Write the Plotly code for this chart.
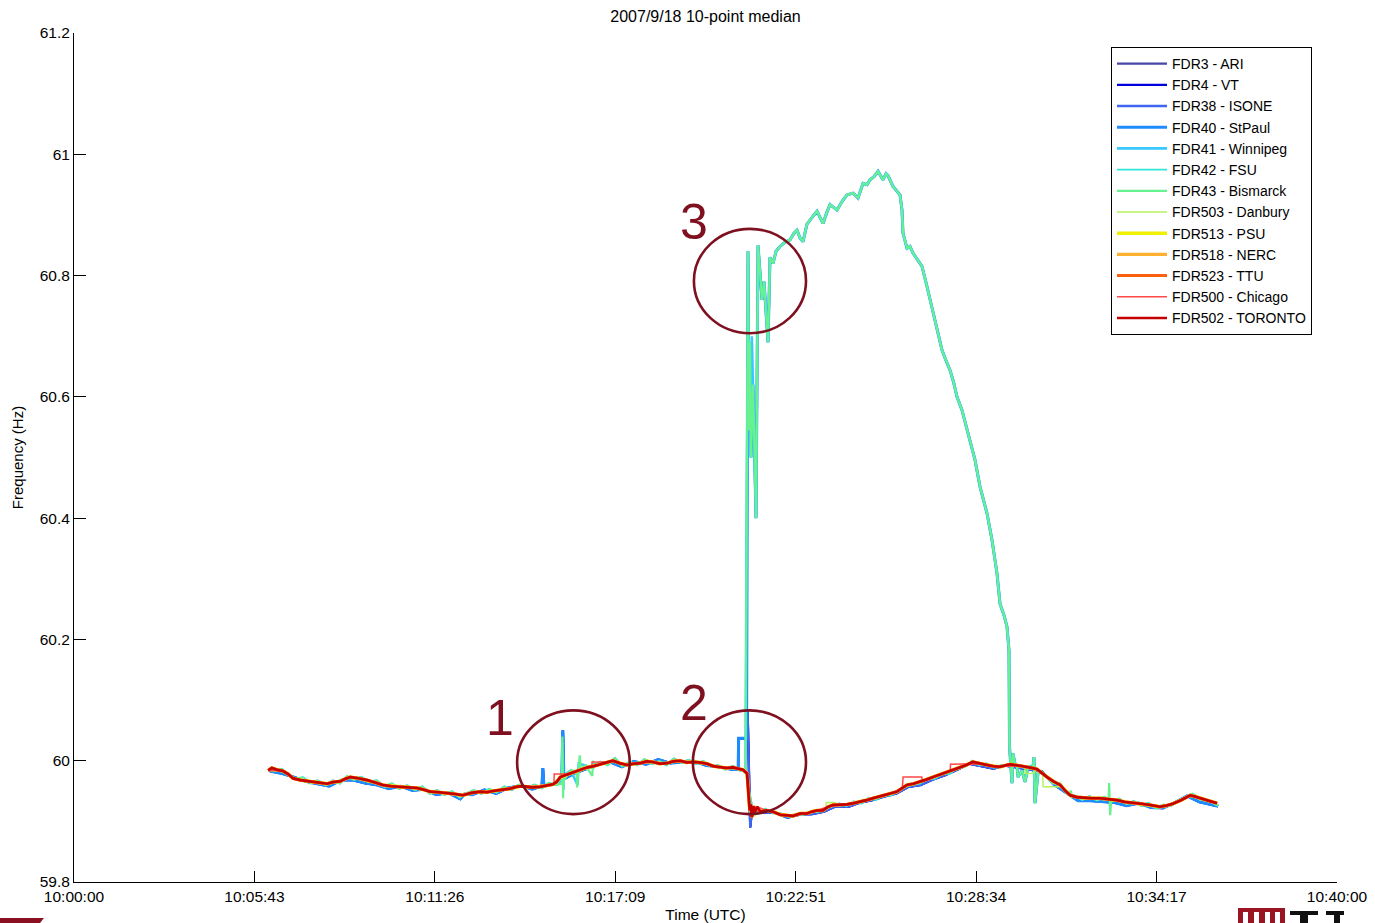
import plotly.graph_objects as go

# ---------------------------------------------------------------------------
# FNET frequency recordings, 2007-09-18, 10-point median filtered.
# Time is seconds after 10:00:00 UTC, frequency in Hz.
# ---------------------------------------------------------------------------

# Eastern interconnection reference trace (TORONTO and the smoother units)
t_east = [369, 376, 386, 397, 407, 416, 430, 448, 465, 481, 493, 506, 515, 525, 540,
          557, 572, 587, 603, 620, 636, 652, 665, 677, 693, 709, 724, 739, 755, 772,
          785, 796, 812, 829, 841, 853, 870, 886, 898, 910, 917, 924, 936, 948, 962,
          975, 987, 1000, 1012, 1024, 1037, 1051, 1063, 1076, 1088, 1100, 1113, 1127,
          1139, 1152, 1164, 1176, 1190, 1203, 1215, 1228, 1240, 1252, 1262, 1271, 1279,
          1282, 1284, 1286, 1288, 1291, 1294, 1298, 1304, 1316, 1328, 1342, 1355, 1366,
          1380, 1393, 1402, 1412, 1423, 1433, 1442, 1456, 1469, 1481, 1494, 1506, 1518,
          1532, 1545, 1555, 1564, 1574, 1583, 1595, 1608, 1620, 1632, 1645, 1659, 1671,
          1684, 1696, 1708, 1722, 1735, 1747, 1760, 1769, 1779, 1795, 1811, 1821, 1830,
          1840, 1849, 1861, 1874, 1883, 1893, 1905, 1917, 1933, 1950, 1966, 1982, 1997,
          2012, 2028, 2045, 2054, 2064, 2076, 2088, 2104, 2121, 2130, 2140, 2156, 2172]
f_east = [59.984, 59.988, 59.985, 59.983, 59.978, 59.971, 59.968, 59.966, 59.964, 59.962,
          59.965, 59.966, 59.970, 59.973, 59.971, 59.968, 59.964, 59.960, 59.958, 59.957,
          59.956, 59.955, 59.952, 59.949, 59.948, 59.947, 59.945, 59.943, 59.947, 59.949,
          59.948, 59.950, 59.952, 59.954, 59.957, 59.958, 59.956, 59.957, 59.959, 59.961,
          59.965, 59.973, 59.977, 59.981, 59.985, 59.989, 59.991, 59.994, 59.997, 60.000,
          59.996, 59.993, 59.995, 59.996, 59.999, 59.998, 59.995, 59.996, 59.999, 60.000,
          59.997, 59.998, 59.997, 59.995, 59.991, 59.989, 59.988, 59.989, 59.987, 59.985,
          59.979, 59.935, 59.918, 59.928, 59.907, 59.925, 59.915, 59.924, 59.916, 59.918,
          59.916, 59.911, 59.910, 59.909, 59.913, 59.913, 59.916, 59.918, 59.918, 59.924,
          59.927, 59.927, 59.928, 59.930, 59.932, 59.935, 59.938, 59.941, 59.944, 59.947,
          59.949, 59.955, 59.960, 59.962, 59.965, 59.969, 59.973, 59.977, 59.981, 59.985,
          59.988, 59.993, 59.998, 59.995, 59.993, 59.991, 59.990, 59.992, 59.994, 59.992,
          59.990, 59.988, 59.986, 59.979, 59.973, 59.966, 59.960, 59.951, 59.943, 59.940,
          59.939, 59.938, 59.938, 59.937, 59.935, 59.932, 59.930, 59.929, 59.927, 59.925,
          59.924, 59.926, 59.929, 59.935, 59.943, 59.941, 59.938, 59.934, 59.930]

# Noisier eastern trace (green / cyan units)
t_band = [370, 382, 395, 408, 420, 435, 450, 463, 478, 492, 505, 519, 532, 546, 560, 575,
          590, 604, 618, 633, 648, 662, 676, 690, 704, 718, 733, 746, 760, 774, 789, 803,
          818, 832, 846, 860, 875, 889, 902, 916, 930, 944, 958, 972, 986, 1000, 1014,
          1028, 1042, 1056, 1070, 1084, 1098, 1112, 1126, 1140, 1154, 1168, 1182, 1196,
          1210, 1224, 1238, 1252, 1266, 1276,
          1290, 1300, 1314, 1328, 1342, 1356, 1370, 1384, 1398, 1412, 1426, 1440, 1454,
          1468, 1482, 1496, 1510, 1524, 1538, 1552, 1566, 1580, 1594, 1608, 1622, 1636,
          1650, 1664, 1678, 1692, 1706, 1720, 1734, 1748, 1762, 1776, 1790, 1804, 1818,
          1832, 1846, 1860, 1874, 1888, 1902, 1916, 1930, 1944, 1958, 1972, 1986, 2000,
          2014, 2028, 2042, 2056, 2070, 2084, 2098, 2112, 2126, 2140, 2154, 2168, 2174]
f_band = [59.986, 59.983, 59.986, 59.976, 59.970, 59.972, 59.963, 59.967, 59.960, 59.967,
          59.963, 59.974, 59.969, 59.973, 59.965, 59.967, 59.957, 59.962, 59.954, 59.959,
          59.952, 59.957, 59.946, 59.951, 59.944, 59.949, 59.940, 59.946, 59.951, 59.946,
          59.953, 59.948, 59.957, 59.952, 59.960, 59.955, 59.960, 59.955, 59.963, 59.960,
          59.975, 59.984, 59.980, 59.992, 59.988, 59.998, 59.993, 60.004, 59.991, 59.998,
          59.993, 60.002, 59.995, 59.999, 59.993, 60.003, 59.997, 60.001, 59.995, 59.999,
          59.991, 59.992, 59.986, 59.991, 59.984, 59.983,
          59.920, 59.913, 59.921, 59.913, 59.914, 59.907, 59.912, 59.910, 59.916, 59.915,
          59.921, 59.924, 59.930, 59.925, 59.933, 59.929, 59.939, 59.935, 59.944, 59.942,
          59.951, 59.957, 59.960, 59.962, 59.970, 59.970, 59.979, 59.978, 59.989, 59.989,
          60.000, 59.992, 59.996, 59.988, 59.993, 59.991, 59.995, 59.988, 59.992, 59.983,
          59.975, 59.963, 59.962, 59.945, 59.942, 59.936, 59.941, 59.935, 59.940, 59.933,
          59.937, 59.929, 59.933, 59.926, 59.930, 59.922, 59.927, 59.926, 59.934, 59.940,
          59.945, 59.936, 59.935, 59.929, 59.926]

# Blue units (ARI, VT, ISONE, StPaul)
t_blue = [372, 395, 418, 440, 462, 485, 508, 530, 553, 576, 598, 621, 643, 666, 688, 711,
          734, 742, 757, 780, 802, 825, 848, 871, 889, 891, 893, 916, 927, 929, 931, 950,
          972, 995, 1018, 1041, 1064, 1087, 1110, 1133, 1156, 1179, 1202, 1225, 1248,
          1262, 1263, 1278, 1280, 1282, 1285, 1288, 1310, 1333, 1356, 1379, 1402, 1425,
          1448, 1471, 1494, 1517, 1540, 1563, 1586, 1609, 1632, 1655, 1678, 1701, 1724,
          1747, 1770, 1793, 1816, 1839, 1862, 1885, 1908, 1931, 1954, 1977, 2000, 2023,
          2046, 2069, 2092, 2115, 2138, 2161, 2174]
f_blue = [59.983, 59.979, 59.973, 59.966, 59.962, 59.958, 59.968, 59.968, 59.963, 59.960,
          59.954, 59.958, 59.951, 59.953, 59.944, 59.947, 59.937, 59.945, 59.944, 59.952,
          59.946, 59.955, 59.959, 59.953, 59.958, 59.988, 59.958, 59.962, 59.968, 60.050,
          59.970, 59.979, 59.986, 59.995, 59.998, 59.990, 59.999, 59.994, 60.002, 59.996,
          59.998, 59.999, 59.992, 59.990, 59.986, 59.986, 60.037, 60.037, 60.082, 59.975,
          59.890, 59.915, 59.915, 59.914, 59.906, 59.911, 59.912, 59.916, 59.925, 59.924,
          59.931, 59.935, 59.941, 59.946, 59.957, 59.960, 59.969, 59.976, 59.985, 59.995,
          59.991, 59.987, 59.992, 59.989, 59.985, 59.982, 59.961, 59.947, 59.934, 59.934,
          59.932, 59.931, 59.926, 59.930, 59.923, 59.922, 59.931, 59.942, 59.932, 59.928,
          59.925]

# Islanded units after separation (StPaul, Winnipeg, Bismarck)
t_isl = [1280.8, 1282.7, 1284.6, 1286.5, 1290.3, 1292.2, 1296.0, 1299.8, 1303.6, 1307.4,
         1311.2, 1315.0, 1318.8, 1322.6, 1328.3, 1334.0, 1341.6, 1351.1, 1360.6, 1368.2,
         1373.9, 1379.6, 1385.3, 1392.9, 1398.6, 1406.2, 1411.9, 1417.6, 1423.3, 1430.9,
         1436.6, 1444.2, 1449.9, 1459.4, 1468.9, 1480.3, 1489.8, 1499.3, 1506.9, 1512.6,
         1520.2, 1527.8, 1533.5, 1537.3, 1543.0, 1546.8, 1556.3, 1569.6, 1573.4, 1575.3,
         1582.9, 1588.6, 1594.3, 1601.9, 1611.4, 1620.9, 1626.6, 1632.3, 1641.8, 1649.4,
         1657.0, 1664.6, 1671.2, 1677.9, 1687.4, 1698.8, 1705.5, 1712.1, 1721.6, 1728.2,
         1734.9, 1744.4, 1753.9, 1759.6, 1767.2, 1772.9, 1776.7, 1777.7, 1782.4, 1784.3,
         1788.1, 1791.9, 1793.8, 1801.4, 1807.1, 1812.8, 1822.3, 1824.2, 1826.1, 1831.8]
f_isl = [60.840, 60.545, 60.690, 60.500, 60.620, 60.560, 60.400, 60.850, 60.800, 60.760,
         60.790, 60.730, 60.690, 60.830, 60.820, 60.840, 60.848, 60.855, 60.859, 60.870,
         60.875, 60.862, 60.856, 60.885, 60.892, 60.900, 60.906, 60.895, 60.886, 60.905,
         60.917, 60.912, 60.908, 60.922, 60.933, 60.936, 60.928, 60.952, 60.950, 60.958,
         60.963, 60.972, 60.962, 60.958, 60.968, 60.965, 60.947, 60.933, 60.908, 60.870,
         60.845, 60.848, 60.837, 60.828, 60.815, 60.782, 60.760, 60.743, 60.705, 60.677,
         60.660, 60.644, 60.625, 60.600, 60.578, 60.540, 60.520, 60.496, 60.452, 60.430,
         60.408, 60.364, 60.309, 60.259, 60.240, 60.221, 60.182, 60.023, 59.963, 60.012,
         59.995, 59.990, 59.973, 59.984, 59.965, 59.989, 59.990, 60.006, 59.930, 59.979]

# Short excursions recorded by individual units
t_spk41 = [926, 928, 930, 957, 959, 1286, 1288]
f_spk41 = [59.964, 60.030, 59.952, 59.960, 59.995, 60.520, 60.700]
t_spk43 = [927, 928, 929.5, 931, 955, 956, 958, 961, 963, 985, 986, 988,
           1892, 1894, 1896, 1966, 1967, 1969, 1971]
f_spk43 = [59.962, 60.040, 59.938, 59.968, 59.983, 59.956, 59.985, 60.009, 59.986,
           59.975, 60.000, 59.990, 59.943, 59.951, 59.940, 59.936, 59.963, 59.910, 59.938]

# Chicago: sparse reporting gives flat median segments
t_chi = [369, 397, 416, 448, 481, 506, 525, 557, 587, 620, 652, 677, 709, 739, 772, 796,
         829, 853, 886, 910, 912, 912.5, 937, 948, 962, 975, 984, 984.5, 1013, 1024, 1051,
         1076, 1100, 1127, 1152, 1176, 1203, 1228, 1252, 1271, 1279, 1282, 1288, 1298,
         1316, 1342, 1366, 1393, 1412, 1433, 1456, 1481, 1506, 1532, 1555, 1574, 1575.5,
         1611, 1612, 1632, 1659, 1665, 1665.5, 1708, 1722, 1747, 1756, 1756.5, 1779, 1795,
         1811, 1830, 1849, 1874, 1893, 1917, 1950, 1982, 2012, 2045, 2064, 2088, 2121,
         2140, 2172]
f_chi = [59.984, 59.983, 59.971, 59.966, 59.962, 59.966, 59.973, 59.968, 59.960, 59.957,
         59.955, 59.949, 59.947, 59.943, 59.949, 59.950, 59.954, 59.958, 59.957, 59.961,
         59.962, 59.978, 59.978, 59.981, 59.985, 59.989, 59.990, 59.998, 59.998, 60.000,
         59.993, 59.996, 59.998, 59.996, 60.000, 59.998, 59.995, 59.989, 59.989, 59.985,
         59.979, 59.935, 59.907, 59.924, 59.918, 59.911, 59.909, 59.913, 59.918, 59.924,
         59.927, 59.930, 59.935, 59.941, 59.947, 59.955, 59.973, 59.973, 59.966, 59.973,
         59.981, 59.983, 59.994, 59.994, 59.995, 59.991, 59.990, 59.991, 59.991, 59.992,
         59.990, 59.986, 59.973, 59.960, 59.943, 59.939, 59.938, 59.935, 59.930, 59.927,
         59.924, 59.929, 59.943, 59.938, 59.930]

# Danbury: sparse reporting as well
t_dan = [369, 397, 416, 448, 481, 525, 557, 587, 620, 652, 677, 709, 739, 772, 796, 829,
         853, 886, 910, 924, 948, 975, 1000, 1024, 1051, 1076, 1100, 1127, 1152, 1176,
         1203, 1228, 1252, 1271, 1279, 1284, 1288, 1304, 1328, 1355, 1380, 1402, 1423,
         1429, 1429.5, 1444, 1456, 1481, 1506, 1532, 1555, 1583, 1608, 1632, 1659, 1684,
         1708, 1735, 1760, 1779, 1807, 1807.5, 1822, 1830, 1840, 1841, 1841.5, 1874, 1883,
         1893, 1917, 1950, 1982, 2012, 2045, 2064, 2088, 2121, 2140, 2172]
f_dan = [59.984, 59.983, 59.971, 59.966, 59.962, 59.973, 59.968, 59.960, 59.957, 59.955,
         59.949, 59.947, 59.943, 59.949, 59.950, 59.954, 59.958, 59.957, 59.961, 59.973,
         59.981, 59.989, 59.994, 60.000, 59.993, 59.996, 59.998, 59.996, 60.000, 59.998,
         59.995, 59.989, 59.989, 59.985, 59.979, 59.918, 59.907, 59.916, 59.916, 59.910,
         59.913, 59.916, 59.918, 59.921, 59.931, 59.931, 59.927, 59.930, 59.935, 59.941,
         59.947, 59.960, 59.965, 59.973, 59.981, 59.988, 59.998, 59.993, 59.990, 59.994,
         59.990, 59.979, 59.979, 59.986, 59.979, 59.975, 59.957, 59.957, 59.951, 59.943,
         59.939, 59.938, 59.935, 59.930, 59.927, 59.924, 59.929, 59.943, 59.938, 59.930]

unit_names = ["FDR3 - ARI", "FDR4 - VT", "FDR38 - ISONE", "FDR40 - StPaul",
              "FDR41 - Winnipeg", "FDR42 - FSU", "FDR43 - Bismarck", "FDR503 - Danbury",
              "FDR513 - PSU", "FDR518 - NERC", "FDR523 - TTU", "FDR500 - Chicago",
              "FDR502 - TORONTO"]

x_tick_vals = [0, 342.857, 685.714, 1028.571, 1371.429, 1714.286, 2057.143, 2400]
x_tick_text = ["10:00:00", "10:05:43", "10:11:26", "10:17:09", "10:22:51",
               "10:28:34", "10:34:17", "10:40:00"]
y_tick_vals = [59.8, 60.0, 60.2, 60.4, 60.6, 60.8, 61.0, 61.2]
y_tick_text = ["59.8", "60", "60.2", "60.4", "60.6", "60.8", "61", "61.2"]

SEP_START = 1280      # islanding instant
SEP_END = 1832        # resynchronisation


def pick(t, f, lo, hi):
    return [(a, b) for a, b in zip(t, f) if lo <= a <= hi]


def merged(*parts):
    pts = sorted(p for part in parts for p in part)
    return [p[0] for p in pts], [p[1] for p in pts]


def whole(t, f):
    return list(zip(t, f))


def islanded(t_pre, f_pre, t_sp=(), f_sp=()):
    return merged(pick(t_pre, f_pre, 0, SEP_START - 0.5),
                  list(zip(t_isl, f_isl)),
                  pick(t_pre, f_pre, SEP_END, 9999),
                  list(zip(t_sp, f_sp)))


series_data = {
    "FDR3 - ARI": merged(whole(t_blue, f_blue)),
    "FDR4 - VT": merged(whole(t_blue, f_blue)),
    "FDR38 - ISONE": merged(whole(t_blue, f_blue)),
    "FDR40 - StPaul": islanded(t_blue, f_blue),
    "FDR41 - Winnipeg": islanded(t_band, f_band, t_spk41, f_spk41),
    "FDR42 - FSU": merged(whole(t_band, f_band)),
    "FDR43 - Bismarck": islanded(t_band, f_band, t_spk43, f_spk43),
    "FDR503 - Danbury": merged(whole(t_dan, f_dan)),
    "FDR513 - PSU": merged(whole(t_east, f_east)),
    "FDR518 - NERC": merged(whole(t_east, f_east)),
    "FDR523 - TTU": merged(whole(t_east, f_east)),
    "FDR500 - Chicago": merged(whole(t_chi, f_chi)),
    "FDR502 - TORONTO": merged(whole(t_east, f_east)),
}

line_style = {
    "FDR3 - ARI": ("#4646a6", 2.2),
    "FDR4 - VT": ("#0000dc", 2.2),
    "FDR38 - ISONE": ("#3f66f0", 2.4),
    "FDR40 - StPaul": ("#1e8cff", 3.0),
    "FDR41 - Winnipeg": ("#38c8ff", 2.6),
    "FDR42 - FSU": ("#30e6d6", 1.8),
    "FDR43 - Bismarck": ("#66f28e", 2.2),
    "FDR503 - Danbury": ("#b4f05c", 1.5),
    "FDR513 - PSU": ("#f0f000", 3.4),
    "FDR518 - NERC": ("#ffb030", 3.2),
    "FDR523 - TTU": ("#ff6010", 3.0),
    "FDR500 - Chicago": ("#ff4848", 1.5),
    "FDR502 - TORONTO": ("#c40000", 2.6),
}

FONT = "Liberation Sans, Arial, Helvetica, sans-serif"
MARK = "#7e1020"

fig = go.Figure()
for name in unit_names:
    tx, fy = series_data[name]
    color, width = line_style[name]
    fig.add_trace(go.Scatter(x=tx, y=fy, mode="lines", name=name,
                             line=dict(color=color, width=width)))

# Highlight circles around the three events, with their numbers
circles = [(842, 1056, 59.912, 60.083), (1176, 1391, 59.912, 60.083),
           (1178, 1391, 60.705, 60.877)]
for x0, x1, y0, y1 in circles:
    fig.add_shape(type="circle", xref="x", yref="y", x0=x0, x1=x1, y0=y0, y1=y1,
                  line=dict(color=MARK, width=2.6))
for label, lx, ly in [("1", 810, 60.070), ("2", 1178, 60.095), ("3", 1178, 60.889)]:
    fig.add_annotation(x=lx, y=ly, xref="x", yref="y", text=label, showarrow=False,
                       font=dict(family=FONT, size=50, color=MARK))

# Page furniture below the axes (slide logos, cut by the page edge)
L, R, T, B, W, H = 74, 38, 33, 41, 1375, 923


def px(x, y):
    return (x - L) / (W - L - R), (H - B - y) / (H - T - B)


a = px(0, 918); b = px(44, 918); c = px(40, 923); d = px(0, 923)
fig.add_shape(type="path", xref="paper", yref="paper", line=dict(width=0),
              fillcolor="#8b1022",
              path=f"M{a[0]},{a[1]} L{b[0]},{b[1]} L{c[0]},{c[1]} L{d[0]},{d[1]} Z")
p0 = px(1238, 908); p1 = px(1285, 923)
fig.add_shape(type="rect", xref="paper", yref="paper", x0=p0[0], y0=p0[1], x1=p1[0], y1=p1[1],
              fillcolor="#9a1424", line=dict(width=0))
for xs in (1243, 1254, 1265, 1275):
    q0 = px(xs, 912); q1 = px(xs + 5, 923)
    fig.add_shape(type="rect", xref="paper", yref="paper", x0=q0[0], y0=q0[1], x1=q1[0], y1=q1[1],
                  fillcolor="white", line=dict(width=0))
for (xa, ya, xb, yb) in [(1290, 911, 1318, 915), (1300, 911, 1308, 923),
                         (1326, 911, 1344, 915), (1334, 915, 1340, 923)]:
    q0 = px(xa, ya); q1 = px(xb, yb)
    fig.add_shape(type="rect", xref="paper", yref="paper", x0=q0[0], y0=q0[1], x1=q1[0], y1=q1[1],
                  fillcolor="#111111", line=dict(width=0))

fig.update_layout(
    width=W, height=H, autosize=False,
    margin=dict(l=L, r=R, t=T, b=B),
    paper_bgcolor="white", plot_bgcolor="white",
    font=dict(family=FONT, size=16, color="black"),
    title=dict(text="2007/9/18 10-point median", x=0.5, xref="paper", xanchor="center",
               y=1 - 16 / H, yanchor="middle", font=dict(size=16)),
    showlegend=True,
    legend=dict(x=0.9802, xanchor="right", y=0.9835, yanchor="top",
                bgcolor="white", bordercolor="black", borderwidth=1,
                font=dict(size=14), tracegroupgap=0, itemwidth=50),
    xaxis=dict(range=[0, 2400], tickvals=x_tick_vals, ticktext=x_tick_text,
               ticks="inside", ticklen=11, tickcolor="black", showline=True,
               linecolor="black", linewidth=1, showgrid=False, zeroline=False,
               tickfont=dict(size=15.5),
               title=dict(text="Time (UTC)", standoff=6, font=dict(size=15.5)),
               automargin=False),
    yaxis=dict(range=[59.8, 61.2], tickvals=y_tick_vals, ticktext=y_tick_text,
               ticks="inside", ticklen=12, tickcolor="black", showline=True,
               linecolor="black", linewidth=1, showgrid=False, zeroline=False,
               tickfont=dict(size=15.5),
               title=dict(text="Frequency (Hz)", standoff=12, font=dict(size=15)),
               automargin=False),
)

fig.write_html("out.html")
